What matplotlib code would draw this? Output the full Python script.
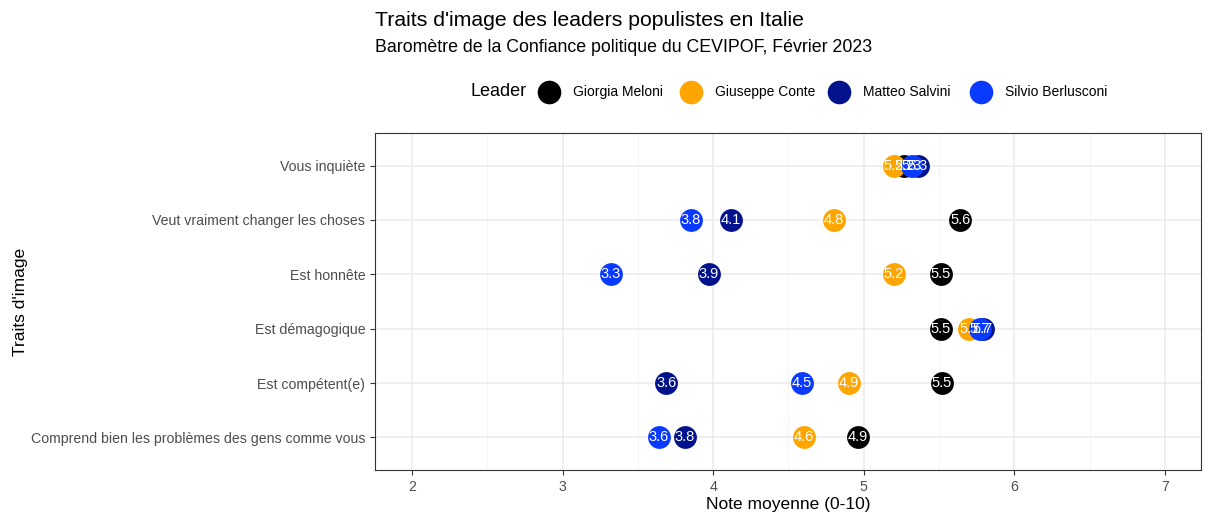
import matplotlib
matplotlib.use("Agg")
import matplotlib.pyplot as plt
from matplotlib.lines import Line2D
import numpy as np

traits = ["Comprend bien les problèmes des gens comme vous",
          "Est compétent(e)",
          "Est démagogique",
          "Est honnête",
          "Veut vraiment changer les choses",
          "Vous inquiète"]
leaders = ["Giorgia Meloni", "Giuseppe Conte", "Matteo Salvini", "Silvio Berlusconi"]
colors = ["#000000", "#FFA500", "#00128C", "#0A3AFF"]

meloni = [4.96, 5.52, 5.51, 5.51, 5.64, 5.27]
conte = [4.60, 4.90, 5.70, 5.20, 4.80, 5.20]
salvini = [3.81, 3.69, 5.79, 3.97, 4.12, 5.36]
berlusconi = [3.64, 4.59, 5.77, 3.32, 3.85, 5.32]
values = [meloni, conte, salvini, berlusconi]

plt.rcParams['font.family'] = ['Liberation Sans', 'DejaVu Sans']

W, H = 1208, 515
fig = plt.figure(figsize=(W / 100, H / 100), dpi=100)
ax = fig.add_axes([375/W, 1-470/H, (1201-375)/W, (470-133)/H])

y = np.arange(1, len(traits) + 1)
for vals, col in zip(values, colors):
    ax.scatter(vals, y, s=270, color=col, zorder=3, linewidths=0)
    for xv, yv in zip(vals, y):
        lab = np.floor(xv * 10 + 1e-6) / 10  # labels are truncated to one decimal
        ax.text(xv, yv, f"{lab:.1f}", color="white", ha="center", va="center",
                fontsize=10.5, zorder=4)

ax.set_xlim(1.754, 7.24)
ax.set_ylim(0.4, 6.6)
ax.set_xticks([2, 3, 4, 5, 6, 7])
ax.set_xticks([2.5, 3.5, 4.5, 5.5, 6.5], minor=True)
ax.set_yticks(y)
ax.set_yticklabels(traits)
ax.grid(True, which="major", color="#EBEBEB", linewidth=1.1, zorder=0)
ax.grid(True, which="minor", axis="x", color="#F2F2F2", linewidth=0.6, zorder=0)
ax.set_axisbelow(True)
for sp in ax.spines.values():
    sp.set_color("#333333")
    sp.set_linewidth(0.8)
ax.tick_params(axis="both", which="major", colors="#333333", labelcolor="#4D4D4D",
               labelsize=10.2, length=3.5, width=0.8)
ax.tick_params(axis="x", which="minor", length=0)
ax.set_xlabel("Note moyenne (0-10)", fontsize=12.5, color="black", labelpad=2)
ax.set_ylabel("Traits d'image", fontsize=12.5, color="black")
ax.yaxis.set_label_coords((28 - 375) / 826, 0.5)

fig.text(375/W, 1-20/H, "Traits d'image des leaders populistes en Italie",
         fontsize=15.3, ha="left", va="center")
fig.text(375/W, 1-47/H, "Baromètre de la Confiance politique du CEVIPOF, Février 2023",
         fontsize=12.8, ha="left", va="center")

# legend (top, horizontal)
ly = 1 - 92/H
fig.text(471/W, ly, "Leader", fontsize=13, ha="left", va="center")
key_x = [549, 691, 839, 981]
for kx, name, col in zip(key_x, leaders, colors):
    fig.add_artist(Line2D([kx/W], [ly], marker="o", linestyle="none", markersize=17,
                          markerfacecolor=col, markeredgewidth=0,
                          transform=fig.transFigure))
    fig.text((kx + 24)/W, ly, name, fontsize=10, ha="left", va="center")

fig.savefig("out.png", dpi=100)
